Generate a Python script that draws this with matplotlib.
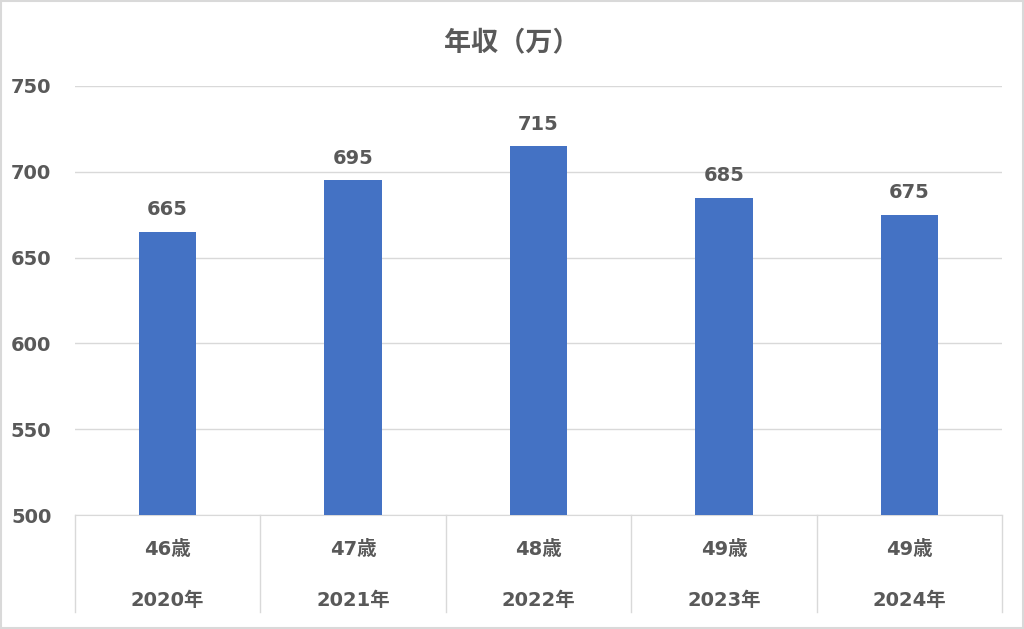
import matplotlib; matplotlib.use("Agg")
import matplotlib.pyplot as plt
from matplotlib.patches import Rectangle

# DejaVu for the Verdana-like digits, Noto CJK for the kanji
plt.rcParams['font.family'] = ['DejaVu Sans', 'Noto Sans CJK JP']

ages = ["46歳", "47歳", "48歳", "49歳", "49歳"]
years = ["2020年", "2021年", "2022年", "2023年", "2024年"]
income = [665, 695, 715, 685, 675]
yticks = [500, 550, 600, 650, 700, 750]

TXT = "#595959"; GRID = "#D9D9D9"
fig = plt.figure(figsize=(10.24, 6.29), dpi=100)
fig.patches.append(Rectangle((0.001, 0.001), 0.998, 0.997, transform=fig.transFigure,
                             fill=False, edgecolor=GRID, linewidth=1.5))
ax = fig.add_axes([0.0732, 0.1812, 0.9053, 0.6821])
xs = list(range(len(income)))
ax.bar(xs, income, width=0.31, color="#4472C4", zorder=3)
for x, v in zip(xs, income):
    ax.annotate(f"{v}", (x, v), textcoords="offset points", xytext=(0, 9), ha="center",
                va="bottom", fontsize=14, fontweight="bold", color=TXT)
ax.set_ylim(500, 750); ax.set_xlim(-0.5, len(income) - 0.5)
ax.set_yticks(yticks)
ax.set_yticklabels([str(t) for t in yticks], fontsize=14, fontweight="bold", color=TXT)
ax.tick_params(axis="y", length=0, pad=17)
ax.set_xticks([])
ax.grid(axis="y", color=GRID, linewidth=1, zorder=0)
for s in ["top", "right", "left"]:
    ax.spines[s].set_visible(False)
ax.spines["bottom"].set_color(GRID)

# multi-level category axis below the plot
trans = ax.get_xaxis_transform()
for b in [i - 0.5 for i in range(len(income) + 1)]:
    ax.plot([b, b], [0, -0.225], transform=trans, color=GRID, lw=1, clip_on=False)
for x, a, y in zip(xs, ages, years):
    ax.text(x, -0.08, a, transform=trans, ha="center", va="center", fontsize=14,
            fontweight="bold", color=TXT)
    ax.text(x, -0.20, y, transform=trans, ha="center", va="center", fontsize=14,
            fontweight="bold", color=TXT)

fig.text(0.5, 0.932, "年収（万）", ha="center", va="center", fontsize=19.5,
         fontweight="bold", color=TXT, family=['Noto Sans CJK JP', 'DejaVu Sans'])
fig.savefig("out.png", dpi=100)
